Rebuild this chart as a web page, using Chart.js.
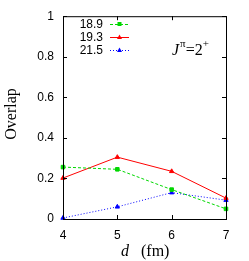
<!DOCTYPE html>
<html>
<head>
<meta charset="utf-8">
<script src="https://cdn.jsdelivr.net/npm/chart.js@4"></script>
<style>
  html, body { margin: 0; padding: 0; background: #fff; }
  #wrap { width: 249px; height: 261px; }
</style>
</head>
<body>
<div id="wrap"><canvas id="c" width="249" height="261"></canvas></div>
<script>
// distance d (fm)
const distances = [4, 5, 6, 7];
// overlap for each energy
const series189 = [0.256, 0.245, 0.145, 0.05];
const series193 = [0.202, 0.305, 0.235, 0.103];
const series215 = [0.005, 0.06, 0.13, 0.093];
const seriesNames = ['18.9', '19.3', '21.5'];
const yTicks = [0, 0.2, 0.4, 0.6, 0.8, 1];

const GREEN = 'rgb(0,215,0)';
const RED = 'rgb(255,0,0)';
const BLUE = 'rgb(0,0,255)';

function pts(vals) {
  return distances.map((d, i) => ({ x: d, y: vals[i] }));
}

// ticks pointing inward on all four sides, plus legend and labels
const decorations = {
  id: 'decorations',
  afterDraw(chart) {
    const ctx = chart.ctx;
    const { left, right, top, bottom } = chart.chartArea;
    const xs = chart.scales.x, ys = chart.scales.y;
    ctx.save();
    ctx.strokeStyle = '#000';
    ctx.lineWidth = 1;
    ctx.strokeRect(left + 0.5, top + 0.5, right - left, bottom - top);
    ctx.beginPath();
    distances.forEach(d => {
      const px = Math.round(xs.getPixelForValue(d)) + 0.5;
      ctx.moveTo(px, bottom); ctx.lineTo(px, bottom - 4);
      ctx.moveTo(px, top); ctx.lineTo(px, top + 4);
    });
    yTicks.forEach(v => {
      const py = Math.round(ys.getPixelForValue(v)) + 0.5;
      ctx.moveTo(left, py); ctx.lineTo(left + 4, py);
      ctx.moveTo(right, py); ctx.lineTo(right - 4, py);
    });
    ctx.stroke();

    // legend
    const sets = chart.data.datasets;
    ctx.font = '12px "Liberation Sans", Arial, sans-serif';
    ctx.textAlign = 'right';
    ctx.textBaseline = 'middle';
    sets.forEach((ds, i) => {
      const y = 24 + i * 13;
      ctx.fillStyle = '#000';
      ctx.fillText(seriesNames[i], 103, y + 0.5);
      ctx.strokeStyle = ds.borderColor;
      ctx.setLineDash(ds.borderDash || []);
      ctx.beginPath();
      ctx.moveTo(110, y + 0.5); ctx.lineTo(129, y + 0.5);
      ctx.stroke();
      ctx.setLineDash([]);
      ctx.fillStyle = ds.borderColor;
      ctx.beginPath();
      if (ds.pointStyle === 'rect') {
        ctx.rect(117.5, y - 2, 4, 4);
      } else {
        ctx.moveTo(119.5, y - 2.5); ctx.lineTo(122, y + 2); ctx.lineTo(117, y + 2); ctx.closePath();
      }
      ctx.fill();
    });

    // J^pi = 2^+
    ctx.fillStyle = '#000';
    ctx.textAlign = 'left';
    ctx.textBaseline = 'alphabetic';
    let x = 172;
    const base = 55;
    ctx.font = 'italic 16px "Liberation Serif", serif';
    ctx.fillText('J', x, base); x += ctx.measureText('J').width + 1;
    ctx.font = '11px "Liberation Serif", serif';
    ctx.fillText('\u03c0', x, base - 8); x += ctx.measureText('\u03c0').width;
    ctx.font = '16px "Liberation Serif", serif';
    ctx.fillText('=2', x, base); x += ctx.measureText('=2').width;
    ctx.font = '11px "Liberation Serif", serif';
    ctx.fillText('+', x, base - 8);

    // x title
    ctx.font = 'italic 16px "Liberation Serif", serif';
    ctx.fillText('d', 121, 256);
    ctx.font = '16px "Liberation Serif", serif';
    ctx.fillText('(fm)', 141, 256);

    // y title
    ctx.translate(16, 114);
    ctx.rotate(-Math.PI / 2);
    ctx.textAlign = 'center';
    ctx.fillText('Overlap', 0, 0);
    ctx.restore();
  }
};

new Chart(document.getElementById('c'), {
  type: 'line',
  data: {
    datasets: [
      { data: pts(series189), borderColor: GREEN, backgroundColor: GREEN, borderDash: [3, 2],
        pointStyle: 'rect', pointRadius: 2.5, borderWidth: 1, clip: false },
      { data: pts(series193), borderColor: RED, backgroundColor: RED,
        pointStyle: 'triangle', pointRadius: 2.5, borderWidth: 1, clip: false },
      { data: pts(series215), borderColor: BLUE, backgroundColor: BLUE, borderDash: [1, 2],
        pointStyle: 'triangle', pointRadius: 2.5, borderWidth: 1, clip: false }
    ]
  },
  options: {
    responsive: false,
    animation: false,
    layout: { padding: { left: 0, right: 23, top: 15, bottom: 0 } },
    plugins: { legend: { display: false }, tooltip: { enabled: false } },
    scales: {
      x: {
        type: 'linear', min: 4, max: 7,
        afterBuildTicks: s => { s.ticks = distances.map(v => ({ value: v })); },
        afterFit: s => { s.height = 42; },
        grid: { display: false, drawTicks: false },
        border: { display: false },
        ticks: { color: '#000', padding: 9, font: { size: 12, family: '"Liberation Sans", Arial, sans-serif' } }
      },
      y: {
        min: 0, max: 1,
        afterBuildTicks: s => { s.ticks = yTicks.map(v => ({ value: v })); },
        afterFit: s => { s.width = 63; },
        grid: { display: false, drawTicks: false },
        border: { display: false },
        ticks: { color: '#000', padding: 9, font: { size: 12, family: '"Liberation Sans", Arial, sans-serif' },
          callback: v => String(Math.round(v * 10) / 10) }
      }
    }
  },
  plugins: [decorations]
});
</script>
</body>
</html>
